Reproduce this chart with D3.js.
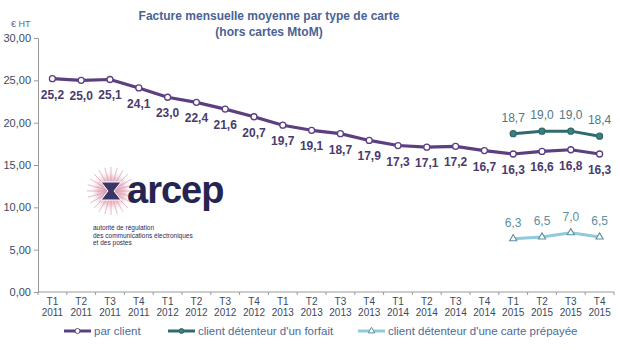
<!DOCTYPE html>
<html>
<head>
<meta charset="utf-8">
<script src="https://d3js.org/d3.v7.min.js"></script>
<style>
  body { margin: 0; background: #fff; }
  text { font-family: "Liberation Sans", Arial, sans-serif; }
</style>
</head>
<body>
<div id="container"></div>
<script>
// données
var quarters = ["T1","T2","T3","T4","T1","T2","T3","T4","T1","T2","T3","T4","T1","T2","T3","T4","T1","T2","T3","T4"];
var years = ["2011","2011","2011","2011","2012","2012","2012","2012","2013","2013","2013","2013","2014","2014","2014","2014","2015","2015","2015","2015"];
var parClient = [25.2, 25.0, 25.1, 24.1, 23.0, 22.4, 21.6, 20.7, 19.7, 19.1, 18.7, 17.9, 17.3, 17.1, 17.2, 16.7, 16.3, 16.6, 16.8, 16.3];
var forfait = [null, null, null, null, null, null, null, null, null, null, null, null, null, null, null, null, 18.7, 19.0, 19.0, 18.4];
var prepayee = [null, null, null, null, null, null, null, null, null, null, null, null, null, null, null, null, 6.3, 6.5, 7.0, 6.5];
var yTicks = [0, 5, 10, 15, 20, 25, 30];

var width = 620, height = 350;
var svg = d3.select("#container").append("svg")
  .attr("width", width).attr("height", height);

var cats = quarters.map((q, i) => i);
var x = d3.scaleBand().domain(cats).range([38, 614]);
var y = d3.scaleLinear().domain([0, 30]).range([292, 38]);
var fmt = v => d3.format(".2f")(v).replace(".", ",");
var fmt1 = v => d3.format(".1f")(v).replace(".", ",");

// titre
svg.append("text").attr("x", 269).attr("y", 20).attr("text-anchor", "middle")
  .attr("font-size", 12).attr("font-weight", "bold").attr("fill", "#4a6394")
  .text("Facture mensuelle moyenne par type de carte");
svg.append("text").attr("x", 269).attr("y", 36).attr("text-anchor", "middle")
  .attr("font-size", 12).attr("font-weight", "bold").attr("fill", "#4a6394")
  .text("(hors cartes MtoM)");
svg.append("text").attr("x", 11).attr("y", 27).attr("font-size", 9).attr("fill", "#5a6b85").text("€ HT");

// axe y
var yAxis = svg.append("g").attr("transform", "translate(38,0)")
  .call(d3.axisLeft(y).tickValues(yTicks).tickFormat(fmt).tickSize(4));
yAxis.select(".domain").attr("stroke", "#9a9a9a");
yAxis.selectAll(".tick line").attr("stroke", "#9a9a9a");
yAxis.selectAll(".tick text").attr("font-size", 11).attr("fill", "#3c4a60")
  .attr("font-family", "Liberation Sans, Arial, sans-serif").attr("x", -7);

// axe x
var xg = svg.append("g").attr("transform", "translate(0,292)");
xg.append("line").attr("x1", 38).attr("x2", 614).attr("stroke", "#9a9a9a");
xg.selectAll(".tk").data(cats.concat([cats.length])).enter().append("line")
  .attr("x1", i => 38 + i * x.step()).attr("x2", i => 38 + i * x.step())
  .attr("y1", 0).attr("y2", 3).attr("stroke", "#9a9a9a");
var xl = xg.selectAll(".xl").data(cats).enter().append("text")
  .attr("text-anchor", "middle").attr("font-size", 10).attr("fill", "#3c4a60")
  .attr("transform", i => `translate(${x(i) + x.bandwidth() / 2},0)`);
xl.append("tspan").attr("x", 0).attr("y", 13).text(i => quarters[i]);
xl.append("tspan").attr("x", 0).attr("y", 24).text(i => years[i]);

// logo arcep
var logo = svg.append("g");
var grad = svg.append("defs").append("radialGradient").attr("id", "burst");
grad.append("stop").attr("offset", "0%").attr("stop-color", "#c46a86");
grad.append("stop").attr("offset", "60%").attr("stop-color", "#e7b5c4");
grad.append("stop").attr("offset", "100%").attr("stop-color", "#ffffff").attr("stop-opacity", 0);
logo.append("circle").attr("cx", 111).attr("cy", 191).attr("r", 22).attr("fill", "url(#burst)").attr("opacity", 0.7);
d3.range(0, 360, 15).forEach(a => {
  var r = a * Math.PI / 180;
  logo.append("line").attr("x1", 111).attr("y1", 191)
    .attr("x2", 111 + 24 * Math.cos(r)).attr("y2", 191 + 24 * Math.sin(r))
    .attr("stroke", "#d58fa5").attr("stroke-width", 0.6);
});
logo.append("path").attr("d", "M101,182 L121,182 L114,191 L121,200 L101,200 L108,191 Z")
  .attr("fill", "#3b3568").attr("stroke", "#fff").attr("stroke-width", 1);
logo.append("text").attr("x", 127).attr("y", 203).attr("font-size", 38).attr("font-weight", "bold")
  .attr("fill", "#262450").attr("font-family", "DejaVu Sans, sans-serif").attr("letter-spacing", -1).text("arcep");
["autorité de régulation", "des communications électroniques", "et des postes"].forEach((t, i) => {
  logo.append("text").attr("x", 93).attr("y", 230 + i * 7.5).attr("font-size", 6.5)
    .attr("fill", "#2c2a58").text(t);
});

// séries
var series = [
  { name: "par client", values: parClient, color: "#5b3f80", width: 3.2, marker: "circle", mfill: "#ffffff", lcolor: "#4a3b6e", bold: true, dy: 20 },
  { name: "client détenteur d'un forfait", values: forfait, color: "#2f6b6d", width: 3, marker: "circle", mfill: "#3f7f82", lcolor: "#517786", bold: false, dy: -12 },
  { name: "client détenteur d'une carte prépayée", values: prepayee, color: "#8fcbdc", width: 3, marker: "triangle", mfill: "#ffffff", lcolor: "#5d8fa0", bold: false, dy: -12 }
];
var cx = i => x(i) + x.bandwidth() / 2;
var line = d3.line().defined(d => d.v != null).x(d => cx(d.i)).y(d => y(d.v));

series.forEach(s => {
  var pts = s.values.map((v, i) => ({ i: i, v: v }));
  var valid = pts.filter(d => d.v != null);
  svg.append("path").datum(pts).attr("d", line).attr("fill", "none")
    .attr("stroke", s.color).attr("stroke-width", s.width).attr("stroke-linejoin", "round");
  if (s.marker === "circle") {
    svg.selectAll(null).data(valid).enter().append("circle")
      .attr("cx", d => cx(d.i)).attr("cy", d => y(d.v)).attr("r", 3)
      .attr("fill", s.mfill).attr("stroke", s.color).attr("stroke-width", 1.3);
  } else {
    svg.selectAll(null).data(valid).enter().append("path")
      .attr("d", d3.symbol().type(d3.symbolTriangle).size(22))
      .attr("transform", d => `translate(${cx(d.i)},${y(d.v)})`)
      .attr("fill", s.mfill).attr("stroke", "#5d8fa0").attr("stroke-width", 1.1);
  }
  svg.selectAll(null).data(valid).enter().append("text")
    .attr("x", d => cx(d.i)).attr("y", d => y(d.v) + s.dy)
    .attr("text-anchor", "middle").attr("font-size", 12)
    .attr("font-family", "Noto Sans, Open Sans, sans-serif")
    .attr("font-weight", s.bold ? "bold" : "normal").attr("fill", s.lcolor)
    .text(d => fmt1(d.v));
});

// légende
var legX = [64, 168, 358];
series.forEach((s, k) => {
  var g = svg.append("g").attr("transform", `translate(${legX[k]},331)`);
  g.append("line").attr("x1", 0).attr("x2", 27).attr("stroke", s.color).attr("stroke-width", 3);
  if (s.marker === "circle") {
    g.append("circle").attr("cx", 13.5).attr("r", 2.5).attr("fill", s.mfill).attr("stroke", s.color);
  } else {
    g.append("path").attr("d", d3.symbol().type(d3.symbolTriangle).size(18))
      .attr("transform", "translate(13.5,0)").attr("fill", "#fff").attr("stroke", "#5d8fa0");
  }
  g.append("text").attr("x", 30).attr("y", 4).attr("font-size", 11.5).attr("fill", "#4f6a96").text(s.name);
});
</script>
</body>
</html>
